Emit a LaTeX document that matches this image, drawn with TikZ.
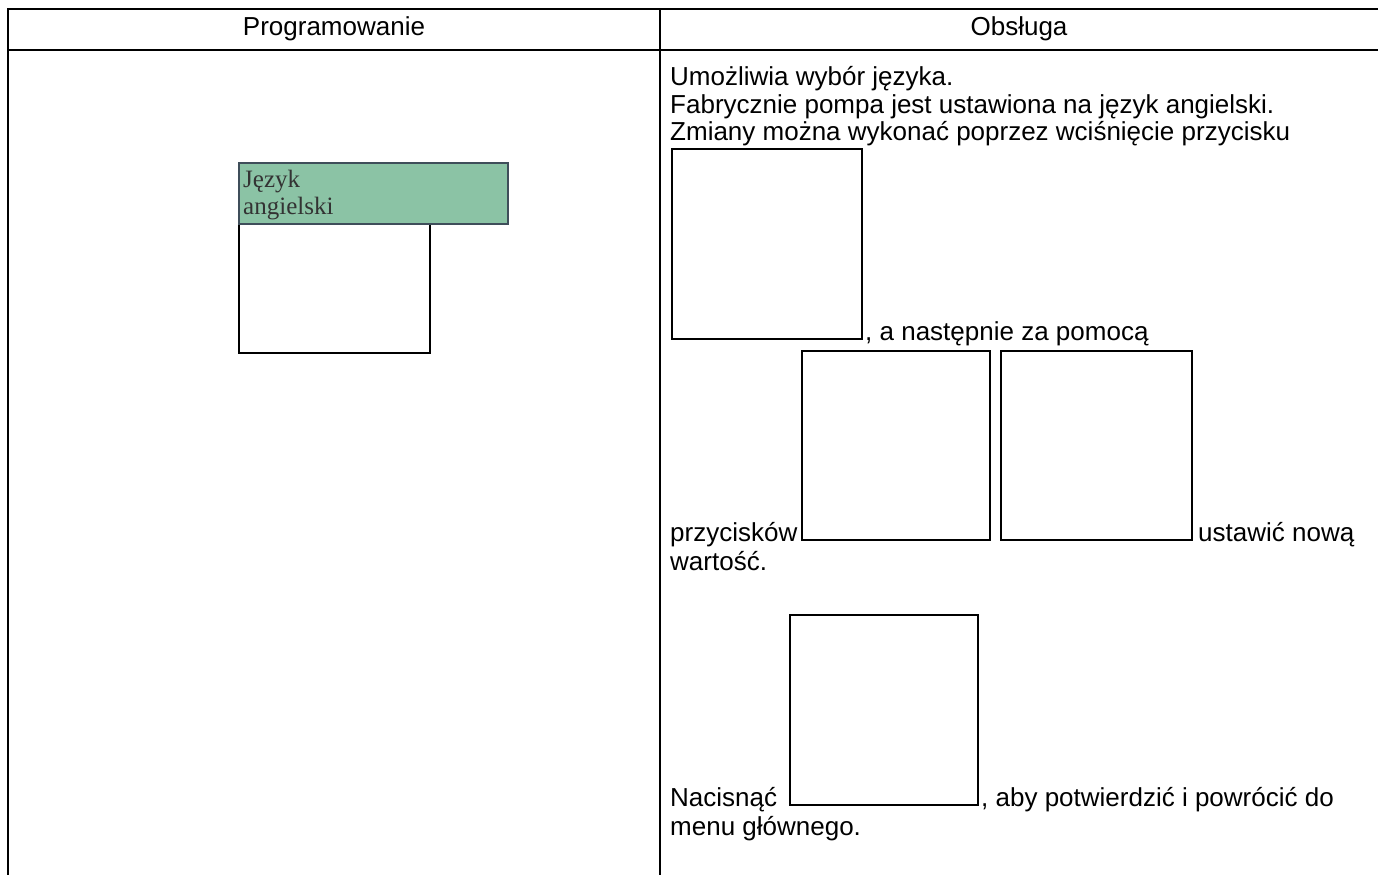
\documentclass[tikz,border=0pt]{standalone}
\usepackage{fontspec}
\setmainfont{Liberation Sans}
\newfontfamily\tnr{Liberation Serif}
\usetikzlibrary{positioning,calc}
\definecolor{keygreen}{HTML}{8BC3A5}
\definecolor{keyedge}{HTML}{3F4E5A}
\definecolor{keytext}{HTML}{333333}

\begin{document}
\begin{tikzpicture}[x=1pt, y=-1pt,
  rule/.style={line width=1.5pt},
  keybox/.style={draw, line width=2pt, minimum width=190pt, minimum height=190pt, inner sep=0pt, anchor=south west},
  body/.style={font=\fontsize{26}{28.5}\selectfont, inner sep=0pt, anchor=base west},
  head/.style={font=\fontsize{26}{28.5}\selectfont, inner sep=0pt},
  screen/.style={draw=keyedge, fill=keygreen, line width=1.5pt, minimum width=269pt, minimum height=61pt, inner sep=0pt, anchor=north west},
  scrlbl/.style={font=\tnr\fontsize{25}{27.5}\selectfont, text=keytext, inner sep=0pt, anchor=base west}
]
\useasboundingbox (0,0) rectangle (1378,875);
% 表格线:上边、表头下边、左边与中间分隔线,右侧不封口
\draw[rule] (1378,9) -- (8,9) -- (8,875);
\draw[rule] (8,50) -- (1378,50);
\draw[rule] (660,9) -- (660,875);
\node[head] (hprog) at (334,29) {Programowanie};
\node[head] (hobs) at (1019,29) {Obsługa};
% 左栏:绿色屏幕框压在空白按键框上
\node[keybox, minimum width=191pt, minimum height=129pt, anchor=north west] (kscr) at (238,223) {};
\node[screen] (scr) at (238,162) {};
\node[scrlbl] (scr1) at (243,187) {Język};
\node[scrlbl] (scr2) at (243,214.5) {angielski};
% 右栏:说明文字,空白框代表按键图
\node[body] (l1) at (670,85) {Umożliwia wybór języka.};
\node[body] (l2) at (670,113) {Fabrycznie pompa jest ustawiona na język angielski.};
\node[body] (l3) at (670,140) {Zmiany można wykonać poprzez wciśnięcie przycisku};
\node[keybox, minimum width=190pt, minimum height=190pt] (k1) at (671,340) {};
\node[body] (l4) at ([xshift=2pt]k1.south east) {, a następnie za pomocą};
\node[keybox, minimum width=188pt, minimum height=189pt] (k2) at (801,541) {};
\node[keybox, minimum width=191pt, minimum height=189pt] (k3) at (1000,541) {};
\node[body] (l5a) at (670,541) {przycisków};
\node[body] (l5b) at ([xshift=5pt]k3.south east) {ustawić nową};
\node[body] (l6) at (670,570) {wartość.};
\node[keybox, minimum width=188pt, minimum height=190pt] (k4) at (789,806) {};
\node[body] (l7a) at (670,806) {Nacisnąć};
\node[body] (l7b) at ([xshift=2pt]k4.south east) {, aby potwierdzić i powrócić do};
\node[body] (l8) at (670,835) {menu głównego.};
\end{tikzpicture}
\end{document}
